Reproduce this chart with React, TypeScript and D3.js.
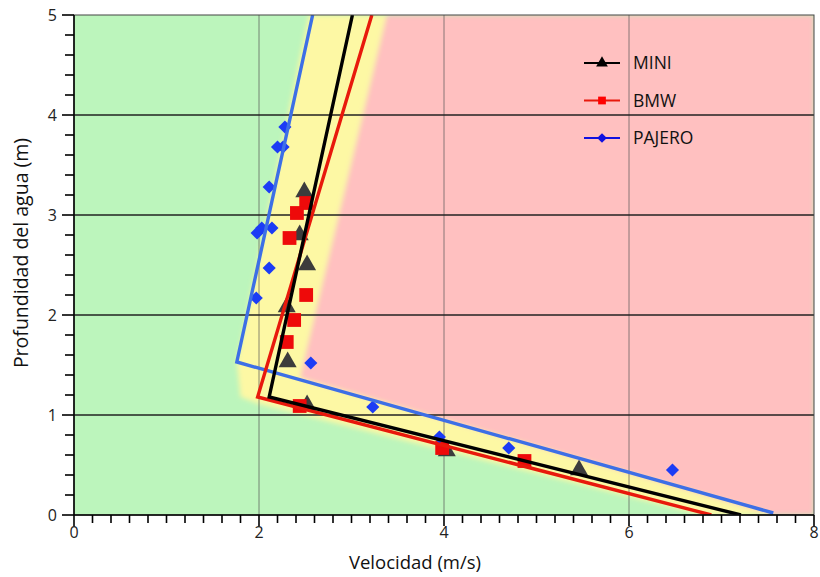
import React, { useRef, useEffect } from 'react';
import * as d3 from 'd3';

// fitted lines (velocity, depth)
const miniLine: [number, number][] = [[3.01, 5], [2.11, 1.18], [7.21, 0]];
const bmwLine: [number, number][] = [[3.22, 5], [1.985, 1.18], [6.89, 0]];
const pajeroLine: [number, number][] = [[2.58, 5], [1.76, 1.53], [7.56, 0.02]];

// measured points
const miniPoints: [number, number][] = [
  [2.49, 3.23], [2.44, 2.8], [2.52, 2.5], [2.3, 2.08], [2.31, 1.53],
  [2.52, 1.1], [4.03, 0.64], [5.46, 0.45],
];
const bmwPoints: [number, number][] = [
  [2.51, 3.12], [2.41, 3.02], [2.33, 2.77], [2.51, 2.2], [2.38, 1.95],
  [2.3, 1.73], [2.44, 1.09], [3.98, 0.67], [4.87, 0.54],
];
const pajeroPoints: [number, number][] = [
  [2.28, 3.88], [2.2, 3.68], [2.26, 3.68], [2.11, 3.28], [2.14, 2.87],
  [2.03, 2.87], [1.98, 2.82], [2.11, 2.47], [1.97, 2.17], [2.56, 1.52],
  [3.23, 1.08], [3.95, 0.78], [4.7, 0.67], [6.47, 0.45],
];

// shaded zones
const pinkZone: [number, number][] = [[3.38, 5], [8, 5], [8, 0], [7.56, 0], [2.44, 1.37]];
const yellowZone: [number, number][] = [
  [2.54, 5], [3.38, 5], [2.44, 1.37], [7.56, 0], [6.8, 0],
  [2.0, 1.11], [1.8, 1.18], [1.76, 1.53],
];

const xTicks = [0, 2, 4, 6, 8];
const yTicks = [0, 1, 2, 3, 4, 5];
const legendNames = ['MINI', 'BMW', 'PAJERO'];

const W = 820, H = 577;
const M = { left: 74, right: 4, top: 15, bottom: 62 };
const FONT = '"Open Sans", "DejaVu Sans", sans-serif';

const App = () => {
  const svgRef = useRef<SVGSVGElement>(null);

  useEffect(() => {
    document.body.style.margin = '0';
    const svg = d3.select(svgRef.current);
    svg.selectAll('*').remove();

    const x = d3.scaleLinear().domain([0, 8]).range([M.left, W - M.right - 2]);
    const y = d3.scaleLinear().domain([0, 5]).range([H - M.bottom, M.top]);
    const x0 = x(0), x1 = x(8), y0 = y(0), y1 = y(5);

    const defs = svg.append('defs');
    defs.append('clipPath').attr('id', 'plotClip')
      .append('rect').attr('x', x0).attr('y', y1).attr('width', x1 - x0).attr('height', y0 - y1);
    defs.append('filter').attr('id', 'soft')
      .attr('x', '-5%').attr('y', '-5%').attr('width', '110%').attr('height', '110%')
      .append('feGaussianBlur').attr('stdDeviation', 2.5);

    const plot = svg.append('g').attr('clip-path', 'url(#plotClip)');
    plot.append('rect').attr('x', x0 - 10).attr('y', y1 - 10)
      .attr('width', x1 - x0 + 20).attr('height', y0 - y1 + 20).attr('fill', '#bcf5bc');

    const poly = d3.line<[number, number]>().x(d => x(d[0])).y(d => y(d[1]));
    const zones = plot.append('g').attr('filter', 'url(#soft)');
    zones.append('path').attr('d', poly(pinkZone) + 'Z').attr('fill', '#ffc0c0');
    zones.append('path').attr('d', poly(yellowZone) + 'Z').attr('fill', '#fdf8a4');

    // gridlines
    plot.selectAll('.vg').data([2, 4, 6]).join('line')
      .attr('x1', d => x(d)).attr('x2', d => x(d)).attr('y1', y1).attr('y2', y0)
      .attr('stroke', '#555').attr('stroke-opacity', 0.7).attr('stroke-width', 1);
    plot.selectAll('.hg').data([1, 2, 3, 4]).join('line')
      .attr('x1', x0).attr('x2', x1).attr('y1', d => y(d)).attr('y2', d => y(d))
      .attr('stroke', '#222').attr('stroke-width', 1.3);

    // frame
    svg.append('rect').attr('x', x0).attr('y', y1).attr('width', x1 - x0).attr('height', y0 - y1)
      .attr('fill', 'none').attr('stroke', '#444').attr('stroke-width', 1);

    const series = [
      { line: miniLine, pts: miniPoints, stroke: '#000', marker: '#3c3c3c', sym: d3.symbolTriangle, size: 140, legendStroke: '#000', legendMarker: '#000' },
      { line: bmwLine, pts: bmwPoints, stroke: '#e8190c', marker: '#ee0a0a', sym: d3.symbolSquare, size: 190, legendStroke: '#e8190c', legendMarker: '#f00' },
      { line: pajeroLine, pts: pajeroPoints, stroke: '#3d6fe6', marker: '#1c3cf5', sym: d3.symbolDiamond2, size: 110, legendStroke: '#1010e0', legendMarker: '#1010e0' },
    ];

    const lineGen = d3.line<[number, number]>().x(d => x(d[0])).y(d => y(d[1]));

    // markers under the lines
    series.forEach(s => {
      plot.append('g').selectAll('path').data(s.pts).join('path')
        .attr('transform', d => `translate(${x(d[0])},${y(d[1])})`)
        .attr('d', d3.symbol().type(s.sym).size(s.size)())
        .attr('fill', s.marker);
    });
    [series[2], series[1], series[0]].forEach(s => {
      plot.append('path').attr('d', lineGen(s.line))
        .attr('fill', 'none').attr('stroke', s.stroke).attr('stroke-width', 3.4)
        .attr('stroke-linejoin', 'miter');
    });

    // axes
    const ax = svg.append('g').attr('fill', 'none').attr('stroke', '#000');
    ax.append('line').attr('x1', x0).attr('x2', x1).attr('y1', y0).attr('y2', y0).attr('stroke-width', 1.5);
    ax.append('line').attr('x1', x0).attr('x2', x0).attr('y1', y1).attr('y2', y0).attr('stroke-width', 1.5);

    const xMinor = d3.range(0, 41).map(i => i * 0.2);
    ax.selectAll('.xt').data(xMinor).join('line')
      .attr('x1', d => x(d)).attr('x2', d => x(d)).attr('y1', y0)
      .attr('y2', (d, i) => y0 + (i % 10 === 0 ? 11 : 8)).attr('stroke-width', 1.6);
    const yMinor = d3.range(0, 26).map(i => i * 0.2);
    ax.selectAll('.yt').data(yMinor).join('line')
      .attr('y1', d => y(d)).attr('y2', d => y(d)).attr('x1', x0)
      .attr('x2', (d, i) => x0 - (i % 5 === 0 ? 12 : 9)).attr('stroke-width', 1.6);

    svg.append('g').selectAll('text').data(xTicks).join('text')
      .attr('x', d => x(d)).attr('y', y0 + 23).attr('text-anchor', 'middle')
      .attr('font-family', FONT).attr('font-size', 16).attr('fill', '#222').text(d => d);
    svg.append('g').selectAll('text').data(yTicks).join('text')
      .attr('x', x0 - 17).attr('y', d => y(d) + 6).attr('text-anchor', 'end')
      .attr('font-family', FONT).attr('font-size', 16).attr('fill', '#222').text(d => d);

    svg.append('text').attr('x', (x0 + x1) / 2 - 29).attr('y', H - 8).attr('text-anchor', 'middle')
      .attr('font-family', FONT).attr('font-size', 18.5).attr('fill', '#111').text('Velocidad (m/s)');
    svg.append('text').attr('transform', `translate(28,253) rotate(-90)`)
      .attr('text-anchor', 'middle')
      .attr('font-family', FONT).attr('font-size', 19.5).attr('fill', '#111').text('Profundidad del agua (m)');

    // legend
    const lg = svg.append('g');
    series.forEach((s, i) => {
      const ly = 63 + i * 37.5;
      lg.append('line').attr('x1', 584).attr('x2', 620).attr('y1', ly).attr('y2', ly)
        .attr('stroke', s.legendStroke).attr('stroke-width', 2);
      lg.append('path').attr('transform', `translate(602,${ly})`)
        .attr('d', d3.symbol().type(s.sym).size(60)()).attr('fill', s.legendMarker);
      lg.append('text').attr('x', 633).attr('y', ly + 6)
        .attr('font-family', FONT).attr('font-size', 17.5).attr('fill', '#111').text(legendNames[i]);
    });
  }, []);

  return <svg ref={svgRef} width={W} height={H} style={{ display: 'block' }}></svg>;
};

export default App;
